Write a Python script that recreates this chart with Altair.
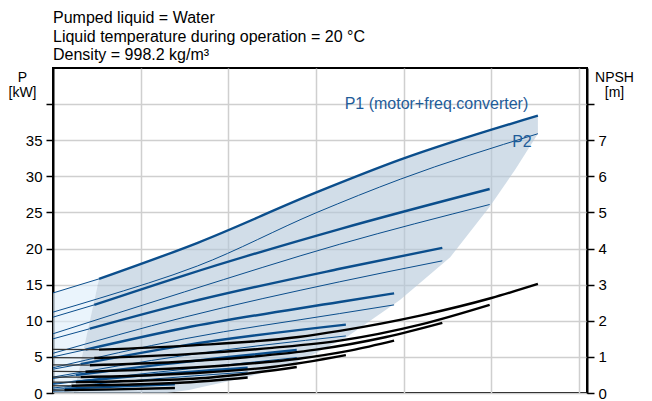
import altair as alt
import pandas as pd

FONT = "Liberation Sans"
BLUE = "#0b4e8c"

header = ["Pumped liquid = Water",
          "Liquid temperature during operation = 20 °C",
          "Density = 998.2 kg/m³"]

speeds = ["100", "90", "80", "70", "60", "50", "40", "25"]
q_min = [5.25, 4.7, 4.2, 3.7, 3.15, 2.6, 2.1, 1.3]

# P1 (motor + frequency converter) [kW]
p1_q = [[0, 5.25, 16.5, 30.1, 39.6, 55.3],
        [0, 4.7, 15, 32.7, 49.8],
        [0, 4.2, 15, 32.7, 44.4],
        [0, 3.7, 15, 32.7, 38.9],
        [0, 3.15, 15, 33.4],
        [0, 2.6, 12, 27.8],
        [0, 2.1, 10, 22.2],
        [0, 1.3, 13.9]]
p1_v = [[13.85, 15.8, 20.8, 27.8, 32.3, 38.4],
        [10.5, 12.2, 16.3, 22.7, 28.25],
        [7.5, 8.9, 12.4, 17.2, 20.1],
        [5.0, 6.0, 9.0, 12.6, 13.8],
        [3.3, 4.0, 6.6, 9.46],
        [2.0, 2.5, 3.9, 5.96],
        [1.2, 1.5, 2.4, 3.5],
        [0.5, 0.6, 1.2]]

# P2 (shaft power) [kW]
p2_q = [[0, 5.25, 16.5, 30.1, 39.6, 55.3],
        [0, 15, 32.7, 49.8],
        [0, 15, 32.7, 44.4],
        [0, 15, 32.7, 38.9],
        [0, 15, 33.4],
        [0, 12, 27.8],
        [0, 10, 22.2],
        [0, 13.9]]
p2_v = [[11.2, 13.1, 17.6, 25.0, 29.6, 35.9],
        [8.2, 14.0, 20.6, 26.1],
        [5.5, 10.5, 15.4, 18.3],
        [3.5, 7.5, 11.0, 12.2],
        [2.2, 5.2, 7.9],
        [1.3, 2.9, 4.9],
        [0.7, 1.8, 2.9],
        [0.25, 0.7]]

# NPSH [m]
npsh_q = [[0, 5.25, 16, 28, 32.7, 42, 50, 55.3],
          [0, 4.7, 15, 25, 32.7, 42, 49.8],
          [0, 4.2, 14, 22, 30, 38, 44.4],
          [0, 3.7, 12, 20, 28, 34, 38.9],
          [0, 3.15, 11, 18, 25, 33.4],
          [0, 2.6, 10, 18, 27.8],
          [0, 2.1, 8, 15, 22.2],
          [0, 1.3, 7, 13.9]]
npsh_v = [[1.21, 1.2, 1.32, 1.55, 1.72, 2.15, 2.63, 3.02],
          [0.98, 0.97, 1.07, 1.25, 1.45, 1.9, 2.44],
          [0.78, 0.77, 0.86, 0.99, 1.2, 1.55, 1.94],
          [0.6, 0.59, 0.66, 0.77, 0.95, 1.18, 1.45],
          [0.44, 0.44, 0.49, 0.58, 0.72, 1.05],
          [0.3, 0.3, 0.34, 0.43, 0.72],
          [0.2, 0.2, 0.23, 0.29, 0.43],
          [0.08, 0.08, 0.1, 0.14]]

# operating range (dark) and extrapolated range (light)
shade_q = [2.4, 5.25, 13, 15.5, 16.5, 22.2, 27.8, 30.1, 33.5, 39, 39.6, 45.3, 49.8, 52.7, 55.3]
shade_top = [0, 15.8, 19.2, 20.4, 20.8, 23.7, 26.6, 27.8, 29.4, 32.0, 32.3, 34.5, 36.2, 37.4, 38.4]
shade_bot = [0, 0, 0, 0.4, 0.7, 2.2, 4.3, 5.6, 7.75, 12.4, 12.9, 18.8, 25.8, 30.9, 35.9]
light_q = [0, 2.4, 5.25]
light_top = [13.85, 14.75, 15.8]
light_bot = [0, 0, 15.8]

labels = ["P1 (motor+freq.converter)", "P2"]
label_q = [54.2, 54.6]
label_p = [40.0, 34.8]

# ---------------------------------------------------------------- tables
rows = []
for s, qm, qs, vs in zip(speeds, q_min, p1_q, p1_v):
    for q, v in zip(qs, vs):
        if q <= qm:
            rows.append(dict(key="P1" + s + "a", seg="thin", Q=q, V=v))
        if q >= qm:
            rows.append(dict(key="P1" + s + "b", seg="thick", Q=q, V=v))
for s, qs, vs in zip(speeds, p2_q, p2_v):
    for q, v in zip(qs, vs):
        rows.append(dict(key="P2" + s, seg="thin", Q=q, V=v))
power = pd.DataFrame(rows)

rows = []
for s, qm, qs, vs in zip(speeds, q_min, npsh_q, npsh_v):
    for q, v in zip(qs, vs):
        if q <= qm:
            rows.append(dict(key="N" + s + "a", seg="thin", Q=q, V=v))
        if q >= qm:
            rows.append(dict(key="N" + s + "b", seg="thick", Q=q, V=v))
npsh = pd.DataFrame(rows)

shade = pd.DataFrame(dict(Q=shade_q, top=shade_top, bot=shade_bot))
light = pd.DataFrame(dict(Q=light_q, top=light_top, bot=light_bot))
ann = pd.DataFrame(dict(text=labels, Q=label_q, V=label_p))

# ---------------------------------------------------------------- encodings
x_scale = alt.Scale(domain=[0, 60.9], nice=False, zero=False)
x_axis = alt.Axis(values=[10, 20, 30, 40, 50, 60], labels=False, ticks=False,
                  domain=False, grid=True, gridColor="#cfcfcf", gridWidth=1.5,
                  title=None)
X = alt.X("Q:Q", scale=x_scale, axis=x_axis)

p_scale = alt.Scale(domain=[0, 45], nice=False, zero=True)
p_axis = alt.Axis(values=list(range(0, 45, 5)),
                  labelExpr="datum.value == 40 ? '' : datum.label",
                  grid=True, gridColor="#cfcfcf", gridWidth=1.5,
                  domain=True, domainColor="black", domainWidth=2,
                  ticks=True, tickColor="black", tickWidth=1.5, tickSize=7,
                  labelFont=FONT, labelFontSize=15, labelColor="black", labelPadding=4,
                  title=["P", "[kW]"], titleAngle=0, titleAlign="center",
                  titleBaseline="top", titleX=-31, titleY=2,
                  titleFont=FONT, titleFontSize=14, titleFontWeight="normal",
                  titleColor="black", titleLineHeight=15)

n_scale = alt.Scale(domain=[0, 9], nice=False, zero=True)
n_axis = alt.Axis(orient="right", values=list(range(0, 9)),
                  labelExpr="datum.value == 8 ? '' : datum.label",
                  grid=False, domain=True, domainColor="black", domainWidth=2,
                  ticks=True, tickColor="black", tickWidth=1.5, tickSize=7,
                  labelFont=FONT, labelFontSize=15, labelColor="black", labelPadding=4,
                  title=["NPSH", "[m]"], titleAngle=0, titleAlign="center",
                  titleBaseline="top", titleX=27, titleY=2,
                  titleFont=FONT, titleFontSize=14, titleFontWeight="normal",
                  titleColor="black", titleLineHeight=15)

light_layer = alt.Chart(light).mark_area(color="#dcedfa", opacity=0.6).encode(
    x=X, y=alt.Y("top:Q", scale=p_scale, axis=p_axis), y2="bot:Q")

shade_layer = alt.Chart(shade).mark_area(color="#b2c6d9", opacity=0.6).encode(
    x=X, y=alt.Y("top:Q", scale=p_scale, axis=p_axis), y2="bot:Q")

power_layer = alt.Chart(power).mark_line(color=BLUE, interpolate="monotone").encode(
    x=X, y=alt.Y("V:Q", scale=p_scale, axis=p_axis),
    detail="key:N",
    strokeWidth=alt.StrokeWidth("seg:N", scale=alt.Scale(domain=["thin", "thick"], range=[1.0, 2.4]), legend=None),
    order="Q:Q")

text_layer = alt.Chart(ann).mark_text(align="right", baseline="middle", font=FONT,
                                      fontSize=16, color="#1f5c99").encode(
    x=X, y=alt.Y("V:Q", scale=p_scale, axis=p_axis), text="text:N")

p_part = alt.layer(light_layer, shade_layer, power_layer, text_layer)

npsh_layer = alt.Chart(npsh).mark_line(interpolate="monotone").encode(
    x=X, y=alt.Y("V:Q", scale=n_scale, axis=n_axis),
    detail="key:N",
    color=alt.Color("seg:N", scale=alt.Scale(domain=["thin", "thick"], range=["#333333", "#000000"]), legend=None),
    strokeWidth=alt.StrokeWidth("seg:N", scale=alt.Scale(domain=["thin", "thick"], range=[1.3, 2.4]), legend=None),
    order="Q:Q")

chart = alt.layer(p_part, npsh_layer).resolve_scale(
    y="independent", strokeWidth="independent", color="independent"
).properties(
    width=534, height=325,
    padding={"left": 45, "top": 60, "right": 55, "bottom": 15},
    autosize=alt.AutoSizeParams(type="none"),
    title=alt.TitleParams(text=header, anchor="start", frame="group", font=FONT,
                          fontSize=16, fontWeight="normal", color="black",
                          lineHeight=18.5, offset=5),
).configure_view(stroke="black", strokeWidth=2)

chart.save("out.html", embed_options={"renderer": "svg", "actions": False})
